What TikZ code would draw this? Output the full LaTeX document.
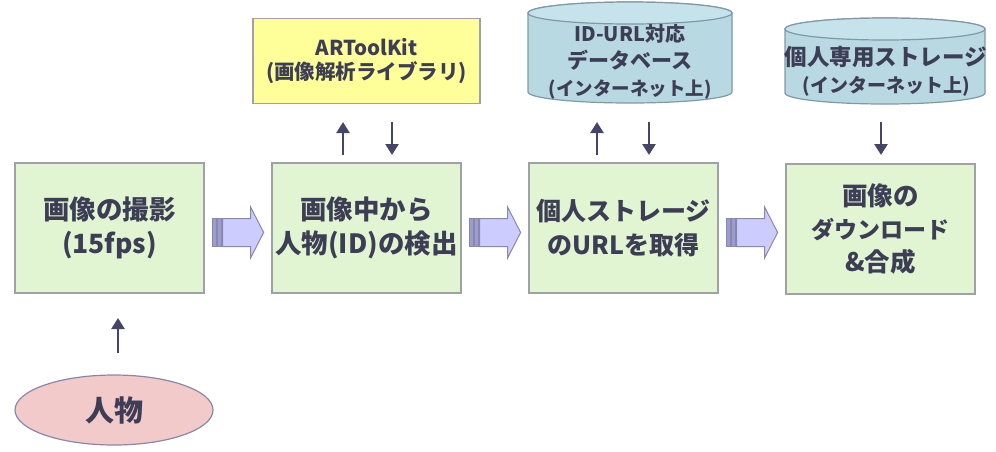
\documentclass[tikz,border=0pt]{standalone}
\usepackage{fontspec}
\setmainfont{Noto Sans CJK JP}
\usetikzlibrary{arrows.meta,shapes.geometric,calc}
\definecolor{txt}{HTML}{3D3D55}
\definecolor{boxfill}{HTML}{E2F5D2}
\definecolor{boxline}{HTML}{A0A0A8}
\definecolor{yel}{HTML}{FFFF99}
\definecolor{cylfill}{HTML}{B8D8E2}
\definecolor{cyltop}{HTML}{C6E2EA}
\definecolor{cylline}{HTML}{7F9AA6}
\definecolor{pink}{HTML}{F2CACA}
\definecolor{arrfill}{HTML}{CCCCFF}
\definecolor{arrline}{HTML}{8888AA}
\definecolor{stripe}{HTML}{9C9CD0}
\definecolor{thin}{HTML}{45456A}
\newcommand\fs[2]{\fontsize{#1}{#2}\selectfont}
\tikzset{
  stepbox/.style={draw=boxline, line width=1.2pt, fill=boxfill, minimum width=189pt, minimum height=130pt, inner sep=0pt, align=center, text=txt, font=\fs{26.5}{34}\bfseries},
  libbox/.style={draw=boxline, line width=1.2pt, fill=yel, minimum width=227pt, minimum height=85pt, inner sep=0pt, align=center, text=txt, font=\fs{20.5}{24}\bfseries},
  cyltext/.style={align=center, text=txt, inner sep=0pt, font=\fs{20}{27}\bfseries},
  cylbody/.style={draw=cylline, line width=1.2pt, fill=cylfill},
  cyltopst/.style={draw=cylline, line width=1.2pt, fill=cyltop},
  person/.style={ellipse, draw=arrline, line width=1.2pt, fill=pink, minimum width=198pt, minimum height=70pt, inner sep=0pt, text=txt, font=\fs{29}{34}\bfseries},
  thinarr/.style={draw=thin, line width=2.4pt, -{Triangle[length=11pt,width=13pt]}},
  blockarr/.pic={
    \fill[stripe, draw=arrline, line width=0.8pt] (0,-14) rectangle (3.5,14);
    \fill[stripe, draw=arrline, line width=0.8pt] (5,-14) rectangle (8.5,14);
    \filldraw[fill=arrfill, draw=arrline, line width=1pt] (10,-14) -- (38,-14) -- (38,-25.5) -- (51,0) -- (38,25.5) -- (38,14) -- (10,14) -- cycle;
  }
}
\begin{document}
\begin{tikzpicture}[x=1pt, y=-1pt]
\useasboundingbox (0,0) rectangle (996,451);
% main boxes
\node[stepbox] (b1) at (109.5,228) {画像の撮影\\(15fps)};
\node[stepbox] (b2) at (366.5,228) {画像中から\\人物(ID)の検出};
\node[stepbox, font=\fs{25}{34}\bfseries] (b3) at (623.5,228) {個人ストレージ\\のURLを取得};
\node[stepbox, font=\fs{25.5}{33}\bfseries] (b4) at (880.5,229) {画像の\\{\fs{23}{33}ダウンロード}\\\&合成};
% library box
\node[libbox] (lib) at (366.5,61) {ARToolKit\\(画像解析ライブラリ)};
% cylinder 1
\path[cylbody] (528,13) -- (528,92) arc[start angle=180, end angle=0, x radius=102, y radius=11] -- (732,13) arc[start angle=0, end angle=-180, x radius=102, y radius=11] -- cycle;
\path[cyltopst] (630,13) ellipse [x radius=102, y radius=11];
\node[cyltext] (db) at (630,62) {ID-URL対応\\{\fs{21}{27}データベース}\\{\fs{18.5}{27}(インターネット上)}};
% cylinder 2
\path[cylbody] (785,29) -- (785,93) arc[start angle=180, end angle=0, x radius=100, y radius=11] -- (985,29) arc[start angle=0, end angle=-180, x radius=100, y radius=11] -- cycle;
\path[cyltopst] (885,29) ellipse [x radius=100, y radius=11];
\node[cyltext, font=\fs{22.5}{27}\bfseries] (st) at (886,71) {個人専用ストレージ\\{\fs{19}{27}(インターネット上)}};
% person
\node[person] (p) at (114,410) {人物};
% block arrows
\pic at ($(b1.east)+(8,4.5)$) {blockarr};
\pic at ($(b2.east)+(8,4.5)$) {blockarr};
\pic at ($(b3.east)+(8,4.5)$) {blockarr};
% thin arrows
\coordinate (a1s) at (343,155); \coordinate (a1e) at (343,122);
\coordinate (a2s) at (392,122); \coordinate (a2e) at (392,155);
\coordinate (a3s) at (597,155); \coordinate (a3e) at (597,122);
\coordinate (a4s) at (649,122); \coordinate (a4e) at (649,155);
\coordinate (a5s) at (881,122); \coordinate (a5e) at (881,155);
\coordinate (a6s) at (118,353); \coordinate (a6e) at (118,318);
\draw[thinarr] (a1s) -- (a1e);
\draw[thinarr] (a2s) -- (a2e);
\draw[thinarr] (a3s) -- (a3e);
\draw[thinarr] (a4s) -- (a4e);
\draw[thinarr] (a5s) -- (a5e);
\draw[thinarr] (a6s) -- (a6e);
\end{tikzpicture}
\end{document}
